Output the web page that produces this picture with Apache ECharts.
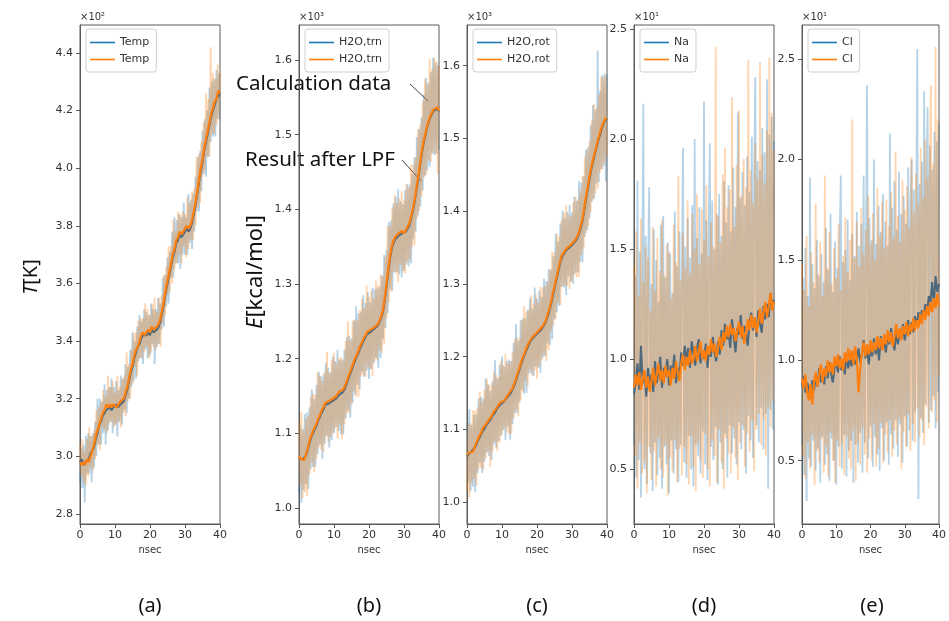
<!DOCTYPE html>
<html><head><meta charset="utf-8">
<script src="https://cdn.jsdelivr.net/npm/echarts@6/dist/echarts.min.js"></script>
<style>html,body{margin:0;padding:0;background:#fff}#c{width:949px;height:621px}</style>
</head><body><div id="c"></div>
<script>
// ---------------- data ----------------
const xTicks = [0, 10, 20, 30, 40];
const panelLabels = ['(a)', '(b)', '(c)', '(d)', '(e)'];
const legendNames = ['Temp', 'H2O,trn', 'H2O,rot', 'Na', 'Cl'];
const exponents = ['×10²', '×10³', '×10³', '×10¹', '×10¹'];
const aTicks = [280, 300, 320, 340, 360, 380, 400, 420, 440];
const bTicks = [1000, 1100, 1200, 1300, 1400, 1500, 1600];
const cTicks = [1000, 1100, 1200, 1300, 1400, 1500, 1600];
const dTicks = [5, 10, 15, 20, 25];
const eTicks = [5, 10, 15, 20, 25];

// (a) Temperature [K], raw (121 samples over 0-40 ns) and after LPF (81 samples)
const aRawBlue = [291,303,289,304,284,307,294,308,294,307,
291,308,296,312,300,320,304,320,304,319,
308,325,304,323,309,324,312,327,308,324,
311,326,307,323,312,328,311,327,316,332,
315,331,320,337,324,343,326,340,327,345,
333,349,334,347,332,351,337,350,334,349,
335,353,339,351,332,351,338,355,339,353,
344,362,345,363,352,369,353,371,362,378,
362,383,367,382,367,384,365,383,370,388,
370,383,370,391,374,389,372,391,378,397,
385,404,385,406,392,413,398,417,397,420,
404,428,409,430,411,431,411,434,417,433,
417];
const aRawOrange = [304,293,306,291,302,290,306,293,310,296,
307,295,309,299,316,304,317,302,319,310,
323,309,321,308,328,311,324,312,326,310,
322,311,328,312,324,310,327,315,328,314,
336,319,332,320,337,325,343,331,343,328,
347,334,348,334,348,336,353,338,351,334,
349,336,353,338,355,337,350,339,355,338,
356,346,363,349,366,356,373,357,373,360,
382,365,378,367,385,370,384,367,385,373,
384,369,390,372,388,375,392,375,393,380,
404,386,405,388,409,397,416,399,426,404,
424,404,442,412,433,412,431,415,436,417,
433];
const aLpfBlue = [298,299,297,298,298,299,301,301,303,306,
308,311,312,314,315,316,316,317,316,317,
317,318,317,318,318,319,321,323,326,329,
331,334,336,338,339,341,342,342,342,343,
342,344,343,343,344,345,347,350,353,357,
360,363,366,369,371,374,375,377,376,377,
377,379,378,379,381,384,387,391,395,399,
402,406,409,412,415,418,420,422,424,425,
426];
const aLpfOrange = [298,297,298,297,299,298,300,302,304,307,
309,311,313,315,316,318,317,318,317,318,
318,317,318,319,319,320,322,324,327,330,
332,335,337,338,340,342,343,342,343,344,
343,345,344,344,345,346,348,351,354,358,
361,364,367,370,372,375,376,378,377,378,
378,380,379,380,382,385,388,392,396,400,
403,407,410,413,416,419,421,423,424,427,
426];

// (b) H2O translational energy [kcal/mol]
const bRawBlue = [1020,1111,1007,1106,1024,1126,1032,1128,1026,1135,
1052,1159,1055,1146,1055,1165,1072,1183,1085,1176,
1066,1179,1086,1194,1097,1188,1081,1182,1091,1203,
1101,1197,1109,1212,1103,1198,1099,1199,1099,1212,
1120,1229,1131,1231,1121,1227,1141,1251,1152,1270,
1165,1261,1159,1263,1182,1285,1176,1275,1184,1289,
1173,1276,1186,1295,1194,1293,1201,1294,1188,1296,
1201,1311,1226,1339,1241,1346,1261,1383,1293,1385,
1291,1408,1316,1417,1316,1427,1313,1411,1309,1407,
1318,1426,1326,1434,1324,1433,1328,1447,1360,1470,
1370,1497,1392,1508,1404,1523,1425,1554,1445,1576,
1452,1570,1457,1584,1475,1603,1473,1596,1475,1593,
1480];
const bRawOrange = [1115,1029,1129,1013,1104,1021,1120,1016,1124,1045,
1149,1061,1153,1048,1152,1066,1182,1081,1177,1078,
1170,1075,1183,1095,1209,1088,1181,1094,1198,1100,
1208,1107,1194,1093,1201,1111,1202,1092,1199,1112,
1224,1127,1250,1127,1225,1139,1251,1156,1253,1149,
1252,1149,1265,1176,1280,1178,1268,1176,1298,1189,
1283,1186,1291,1177,1281,1197,1305,1198,1298,1211,
1313,1208,1311,1219,1337,1254,1378,1275,1378,1290,
1403,1316,1420,1314,1409,1303,1415,1326,1425,1317,
1412,1314,1434,1329,1429,1333,1460,1349,1460,1352,
1470,1387,1507,1398,1514,1417,1545,1442,1575,1446,
1567,1466,1602,1464,1588,1476,1603,1474,1598,1448,
1592];
const bLpfBlue = [1068,1070,1065,1067,1070,1078,1087,1095,1100,1106,
1110,1117,1122,1128,1132,1138,1137,1140,1140,1143,
1144,1146,1148,1152,1152,1155,1159,1165,1172,1178,
1184,1191,1197,1203,1208,1214,1219,1225,1229,1233,
1233,1236,1236,1240,1241,1244,1249,1255,1263,1278,
1296,1316,1334,1347,1355,1360,1362,1365,1364,1368,
1366,1370,1372,1378,1387,1397,1409,1424,1439,1456,
1472,1486,1497,1508,1516,1523,1528,1532,1533,1535,
1531];
const bLpfOrange = [1070,1066,1068,1064,1072,1080,1090,1097,1103,1108,
1113,1120,1125,1131,1135,1141,1139,1143,1142,1146,
1146,1149,1150,1156,1154,1158,1162,1168,1175,1181,
1187,1194,1200,1205,1211,1217,1222,1228,1231,1236,
1235,1239,1237,1242,1243,1246,1251,1257,1266,1282,
1300,1320,1338,1350,1358,1363,1364,1368,1366,1371,
1368,1372,1374,1381,1390,1400,1412,1427,1442,1459,
1475,1489,1500,1510,1518,1525,1530,1534,1534,1537,
1532];

// (c) H2O rotational energy [kcal/mol]
const cRawBlue = [1110,1027,1128,1015,1106,1021,1120,1014,1121,1040,
1143,1054,1145,1040,1142,1056,1170,1068,1162,1063,
1153,1058,1167,1080,1195,1075,1170,1084,1189,1091,
1200,1099,1186,1085,1194,1104,1196,1086,1194,1107,
1219,1122,1245,1123,1222,1137,1250,1155,1253,1149,
1253,1150,1265,1177,1280,1177,1266,1173,1295,1186,
1280,1184,1291,1178,1282,1199,1307,1201,1304,1218,
1321,1216,1320,1224,1338,1251,1369,1261,1358,1270,
1383,1296,1401,1295,1391,1285,1399,1310,1409,1303,
1398,1300,1420,1315,1414,1316,1442,1330,1439,1330,
1448,1365,1485,1374,1489,1390,1518,1413,1546,1417,
1539,1438,1621,1440,1566,1458,1587,1462,1589,1441,
1588];
const cRawOrange = [1015,1109,1006,1108,1026,1126,1032,1126,1023,1130,
1046,1152,1047,1138,1045,1155,1060,1170,1070,1161,
1049,1162,1070,1179,1083,1175,1070,1172,1082,1194,
1093,1189,1101,1204,1096,1191,1093,1193,1094,1207,
1115,1224,1126,1227,1118,1225,1140,1250,1152,1270,
1166,1262,1159,1264,1182,1284,1174,1272,1181,1286,
1170,1274,1186,1296,1195,1295,1203,1297,1194,1303,
1209,1319,1235,1344,1242,1343,1252,1369,1273,1365,
1271,1388,1297,1398,1298,1409,1297,1395,1293,1393,
1304,1412,1312,1420,1309,1416,1310,1428,1339,1448,
1348,1475,1370,1484,1379,1496,1398,1525,1416,1547,
1424,1542,1431,1560,1453,1585,1457,1584,1466,1586,
1476];
const cLpfBlue = [1063,1066,1067,1071,1070,1077,1083,1088,1093,1098,
1101,1106,1108,1112,1116,1120,1123,1128,1130,1134,
1136,1138,1140,1144,1147,1150,1155,1160,1167,1175,
1182,1190,1197,1203,1209,1215,1220,1224,1226,1229,
1231,1234,1236,1239,1243,1248,1255,1262,1272,1283,
1294,1305,1315,1326,1335,1340,1344,1347,1349,1351,
1353,1356,1359,1363,1369,1377,1387,1401,1416,1430,
1444,1457,1468,1478,1488,1497,1505,1513,1520,1525,
1527];
const cLpfOrange = [1065,1068,1070,1069,1072,1080,1085,1091,1095,1101,
1103,1108,1110,1115,1118,1123,1125,1130,1132,1137,
1138,1139,1142,1146,1148,1153,1157,1163,1170,1178,
1185,1193,1200,1205,1212,1218,1222,1226,1228,1231,
1232,1236,1238,1241,1245,1250,1258,1265,1275,1287,
1297,1308,1318,1329,1338,1342,1346,1349,1350,1353,
1354,1358,1360,1365,1372,1380,1390,1405,1420,1434,
1448,1460,1471,1480,1490,1500,1508,1516,1522,1527,
1528];

// (d) Na
const dRawBlue = [6.1,13.8,4.6,18.1,5.4,14.9,3.7,13.2,21.6,5.0,
15.6,4.3,14.0,17.8,5.7,13.4,4.0,15.9,6.2,14.5,
4.7,12.6,5.5,16.1,4.1,16.5,6.0,13.7,5.2,15.3,
3.9,14.8,6.3,13.0,4.8,16.7,5.9,14.2,4.4,15.8,
6.1,13.9,19.6,5.3,15.1,4.6,16.4,6.5,14.6,5.0,
17.0,4.2,20.0,6.1,15.5,5.6,16.9,4.8,14.8,6.7,
21.7,5.2,16.3,4.5,15.7,19.8,6.0,17.2,5.4,15.0,
6.9,16.6,4.3,17.5,6.2,15.6,5.0,18.1,6.6,16.2,
4.6,17.9,7.0,15.8,5.7,18.7,6.4,16.9,5.2,21.2,
7.1,17.3,5.9,18.5,6.8,17.0,4.8,19.2,7.4,17.6,
6.3,20.1,5.5,18.3,22.8,7.0,19.0,6.2,18.6,7.8,
20.5,5.9,19.4,7.5,22.7,4.1,20.2,7.7,21.0,6.8,
19.9];
const dRawOrange = [14.2,5.6,15.8,4.1,12.9,6.2,16.4,4.8,13.5,5.3,
15.1,3.9,14.6,6.0,12.2,4.5,16.0,5.8,13.1,4.2,
15.5,6.4,14.0,5.0,16.3,4.6,13.8,6.1,15.2,3.8,
14.9,5.5,12.8,4.9,16.1,6.3,14.4,4.4,18.3,5.9,
13.6,4.7,15.7,6.0,14.1,5.2,17.2,4.3,13.9,6.5,
16.6,5.1,15.0,4.0,17.5,6.2,14.3,5.4,16.8,4.6,
15.4,6.6,17.9,5.0,14.7,4.2,16.2,6.3,15.1,5.6,
24.2,4.4,16.5,6.8,15.3,5.3,18.4,4.1,19.6,6.4,
16.9,5.7,17.7,4.8,21.9,6.9,16.0,5.5,18.8,4.5,
21.3,6.2,17.4,7.0,19.1,5.1,17.8,6.6,23.6,5.8,
18.6,7.2,17.1,4.9,19.8,6.8,18.2,7.5,23.5,6.1,
19.3,7.3,18.0,5.6,20.4,7.8,23.7,6.9,21.2,8.1,
19.5];
const dLpfBlue = [8.4,9.0,9.8,8.6,10.6,8.9,9.4,8.3,9.6,8.8,
9.3,8.5,9.9,8.9,9.4,10.1,8.7,9.6,9.2,10.0,
8.8,9.7,9.3,10.2,8.9,9.6,9.3,10.3,9.7,10.6,
9.9,10.5,9.6,10.8,10.2,9.7,10.5,10.9,9.8,10.4,
10.0,10.7,9.6,10.5,10.1,11.0,10.3,9.9,10.8,10.2,
11.3,10.6,11.6,10.9,11.2,10.5,11.8,11.0,10.3,11.4,
11.1,12.0,10.9,11.5,11.2,10.6,11.7,12.1,11.3,11.9,
11.0,12.2,11.6,11.2,12.4,11.8,12.5,11.9,13.0,12.3,
12.7];
const dLpfOrange = [8.7,9.3,8.8,9.4,8.6,9.1,9.5,8.7,9.2,8.5,
9.0,9.6,8.8,9.3,9.8,9.0,9.5,8.9,9.7,9.2,
9.5,8.8,9.6,9.1,9.9,9.4,9.0,9.8,10.2,9.5,
10.1,9.7,10.4,9.8,10.0,10.6,9.9,10.3,10.8,10.0,
10.4,9.9,10.6,10.2,10.9,10.3,10.7,10.1,10.5,11.0,
10.4,11.2,10.8,11.5,11.0,11.6,11.1,11.4,10.8,11.3,
11.7,11.0,11.5,10.7,11.2,11.8,11.3,12.0,11.4,11.9,
11.2,11.7,12.3,11.6,12.1,12.6,11.9,12.4,13.0,12.2,
12.6];

// (e) Cl
const eRawBlue = [5.8,14.1,4.3,15.6,3.0,13.2,5.1,19.1,4.7,14.8,
6.0,13.6,4.5,16.0,5.6,14.2,3.9,15.3,6.2,13.9,
4.8,16.6,5.3,14.5,4.0,17.3,6.1,13.4,5.0,15.9,
3.8,14.6,5.7,16.1,19.2,4.6,14.9,6.3,15.5,4.2,
17.0,5.5,14.0,6.0,16.3,3.9,15.2,5.8,17.4,4.9,
15.7,6.4,16.8,4.4,19.2,5.9,15.4,23.7,5.1,17.1,
6.7,16.0,4.7,20.0,6.2,15.8,5.3,17.7,4.5,16.4,
6.6,18.3,5.0,16.9,6.9,15.7,4.8,21.3,6.3,17.6,
5.6,18.9,7.0,16.5,5.2,19.4,6.8,17.3,4.9,18.2,
7.2,16.8,5.7,19.6,6.5,17.9,20.0,6.0,18.5,7.4,
17.2,25.5,3.1,18.8,7.1,19.9,6.4,23.4,7.8,18.6,
22.6,6.9,20.7,7.5,19.5,8.2,21.4,6.6,20.9,8.4,
21.8];
const eRawOrange = [14.8,5.2,13.5,4.1,16.2,5.9,12.7,4.6,15.4,6.3,
13.9,3.8,17.8,5.5,14.3,4.9,15.9,6.1,13.2,4.4,
19.2,5.7,14.6,4.2,16.4,6.4,13.8,5.0,15.6,3.9,
14.1,6.0,16.8,4.7,13.5,5.8,15.2,4.3,17.1,6.2,
14.4,5.1,16.0,4.6,22.0,6.5,15.1,4.0,16.9,5.9,
14.7,4.8,17.6,6.6,15.3,5.3,16.5,4.4,18.2,6.1,
15.8,5.0,17.3,6.8,15.0,4.7,18.6,5.6,16.2,6.9,
17.9,4.9,15.6,6.3,18.0,5.4,16.7,7.0,18.4,5.2,
16.1,6.5,20.4,5.8,17.2,7.1,15.9,4.6,19.0,6.4,
17.5,5.7,18.7,7.3,16.6,5.5,20.1,6.8,17.4,5.9,
19.3,7.6,17.8,6.2,20.6,7.0,18.1,5.8,21.0,7.7,
19.1,6.6,20.3,23.7,7.4,19.8,8.0,25.6,6.9,22.0,
9.2];
const eLpfBlue = [8.7,9.2,8.4,8.9,8.6,8.1,9.0,8.5,9.1,8.7,
9.6,8.9,9.4,8.8,9.7,9.1,9.9,9.3,8.9,9.6,
10.0,9.4,10.2,9.5,9.9,9.3,10.3,9.6,10.1,9.7,
10.4,9.8,10.0,10.6,9.9,10.3,11.0,10.1,10.5,9.8,
10.7,10.2,11.1,10.3,10.8,10.0,11.2,10.6,11.0,10.4,
11.3,10.8,11.6,10.9,10.5,11.4,10.8,11.5,11.1,11.8,
11.0,11.6,12.0,11.3,11.9,11.4,12.2,11.7,12.4,11.9,
12.5,12.1,12.8,12.3,13.2,12.9,13.9,12.8,14.2,13.4,
13.8];
const eLpfOrange = [9.1,8.6,9.3,8.4,8.0,8.8,7.8,8.9,9.4,8.7,
9.3,9.8,8.9,9.6,9.2,10.0,9.4,9.9,9.3,10.2,
9.7,10.3,9.6,10.1,9.5,10.4,9.9,10.6,10.0,10.5,
9.8,10.7,10.1,8.4,9.6,10.4,10.9,10.2,10.8,10.3,
11.0,10.4,10.9,10.5,11.2,10.6,11.1,10.5,11.3,10.8,
11.5,10.9,11.4,10.7,11.2,11.8,11.1,11.6,11.0,11.7,
11.3,11.9,11.2,11.8,11.4,12.1,11.5,12.0,11.6,12.3,
11.8,12.5,12.0,12.7,12.2,12.9,12.4,13.1,12.6,13.3,
12.7];

// ---------------- layout / styling ----------------
const panels = [
  {raw:[aRawBlue, aRawOrange], lpf:[aLpfBlue, aLpfOrange], ticks:aTicks, scale:100, min:276.5, max:449.7, left:80},
  {raw:[bRawBlue, bRawOrange], lpf:[bLpfBlue, bLpfOrange], ticks:bTicks, scale:1000, min:978.6, max:1647, left:299},
  {raw:[cRawBlue, cRawOrange], lpf:[cLpfBlue, cLpfOrange], ticks:cTicks, scale:1000, min:970, max:1656, left:467},
  {raw:[dRawBlue, dRawOrange], lpf:[dLpfBlue, dLpfOrange], ticks:dTicks, scale:10, min:2.5, max:25.18, left:634},
  {raw:[eRawBlue, eRawOrange], lpf:[eLpfBlue, eLpfOrange], ticks:eTicks, scale:10, min:1.85, max:26.7, left:802}
];
const TOP = 25, W = 140, H = 499;
const AX = '#5a5a5a', TXT = '#333';
const TF = 'DejaVu Sans', AF = 'Noto Sans';
const BLUE = '#1f77b4', ORANGE = '#ff7f0e', BLUE_LPF = '#4d687a';

const toPairs = arr => arr.map((v, i) => [i * 40 / (arr.length - 1), v]);

const grid = [], xAxis = [], yAxis = [], series = [], legend = [];
panels.forEach((p, k) => {
  const nm = legendNames[k];
  grid.push({left:p.left, top:TOP, width:W, height:H, show:true, borderColor:AX, borderWidth:1, backgroundColor:'transparent'});
  xAxis.push({type:'value', gridIndex:k, min:0, max:40, interval:10,
    name:'nsec', nameLocation:'middle', nameGap:21,
    nameTextStyle:{fontSize:10, color:TXT, fontFamily:TF},
    axisLine:{show:true, lineStyle:{color:AX, width:1}},
    axisTick:{show:true, length:4, lineStyle:{color:AX}},
    axisLabel:{fontSize:11, color:TXT, fontFamily:TF, margin:6, showMinLabel:true, showMaxLabel:true},
    splitLine:{show:false}});
  yAxis.push({type:'value', gridIndex:k, min:p.min, max:p.max,
    name:exponents[k], nameLocation:'end', nameGap:3,
    nameTextStyle:{fontSize:10, color:TXT, fontFamily:TF, align:'left', verticalAlign:'bottom'},
    axisLine:{show:true, lineStyle:{color:AX, width:1}},
    axisTick:{show:true, length:4, lineStyle:{color:AX}, customValues:p.ticks},
    axisLabel:{fontSize:11, color:TXT, fontFamily:TF, margin:7, customValues:p.ticks,
      formatter: v => (v / p.scale).toFixed(1)},
    splitLine:{show:false}});
  const base = {type:'line', xAxisIndex:k, yAxisIndex:k, symbol:'none', showSymbol:false, silent:true, animation:false};
  series.push(Object.assign({}, base, {name:nm+'_rawb', data:toPairs(p.raw[0]), lineStyle:{color:BLUE, width:1.8, opacity:0.33}, itemStyle:{color:BLUE}}));
  series.push(Object.assign({}, base, {name:nm+'_rawo', data:toPairs(p.raw[1]), lineStyle:{color:ORANGE, width:1.8, opacity:0.33}, itemStyle:{color:ORANGE}}));
  series.push(Object.assign({}, base, {name:nm+'_b', data:toPairs(p.lpf[0]), lineStyle:{color:BLUE_LPF, width:2}, itemStyle:{color:BLUE}}));
  series.push(Object.assign({}, base, {name:nm+'_o', data:toPairs(p.lpf[1]), lineStyle:{color:ORANGE, width:2.2}, itemStyle:{color:ORANGE}}));
  legend.push({left:p.left + 6, top:29, orient:'vertical', selectedMode:false,
    data:[{name:nm+'_b', itemStyle:{color:BLUE}}, {name:nm+'_o', itemStyle:{color:ORANGE}}],
    formatter: n => n.split('_')[0], icon:'rect', itemWidth:25, itemHeight:1.6, itemGap:4,
    textStyle:{fontSize:11, color:TXT, fontFamily:TF, lineHeight:13},
    backgroundColor:'rgba(255,255,255,0.85)', borderColor:'#cfcfcf', borderWidth:1, borderRadius:3,
    padding:[7, 7, 6, 4]});
});

const graphic = [
  {type:'text', x:31, y:277, rotation:Math.PI/2, style:{text:'{i|T}[K]', fontSize:20, fontFamily:AF, fill:'#111', align:'center', verticalAlign:'middle', rich:{i:{fontStyle:'italic', fontSize:20, fontFamily:AF}}}},
  {type:'text', x:256, y:272, rotation:Math.PI/2, style:{text:'{i|E}[kcal/mol]', fontSize:22, fontFamily:AF, fill:'#111', align:'center', verticalAlign:'middle', rich:{i:{fontStyle:'italic', fontSize:22, fontFamily:AF}}}},
  {type:'text', x:236, y:84, style:{text:'Calculation data', fontSize:20.5, fontFamily:AF, fill:'#111', align:'left', verticalAlign:'middle'}},
  {type:'text', x:245, y:160, style:{text:'Result after LPF', fontSize:20.5, fontFamily:AF, fill:'#111', align:'left', verticalAlign:'middle'}},
  {type:'line', shape:{x1:410, y1:84, x2:428, y2:101}, style:{stroke:'#444', lineWidth:1}},
  {type:'line', shape:{x1:402, y1:160, x2:421, y2:181}, style:{stroke:'#444', lineWidth:1}}
];
panels.forEach((p, k) => {
  graphic.push({type:'text', x:p.left + W / 2, y:606, style:{text:panelLabels[k], fontSize:20, fontFamily:AF, fill:'#111', align:'center', verticalAlign:'middle'}});
});

const chart = echarts.init(document.getElementById('c'), null, {renderer:'canvas'});
chart.setOption({animation:false, backgroundColor:'#fff', grid, xAxis, yAxis, series, legend, graphic});
</script>
</body></html>
